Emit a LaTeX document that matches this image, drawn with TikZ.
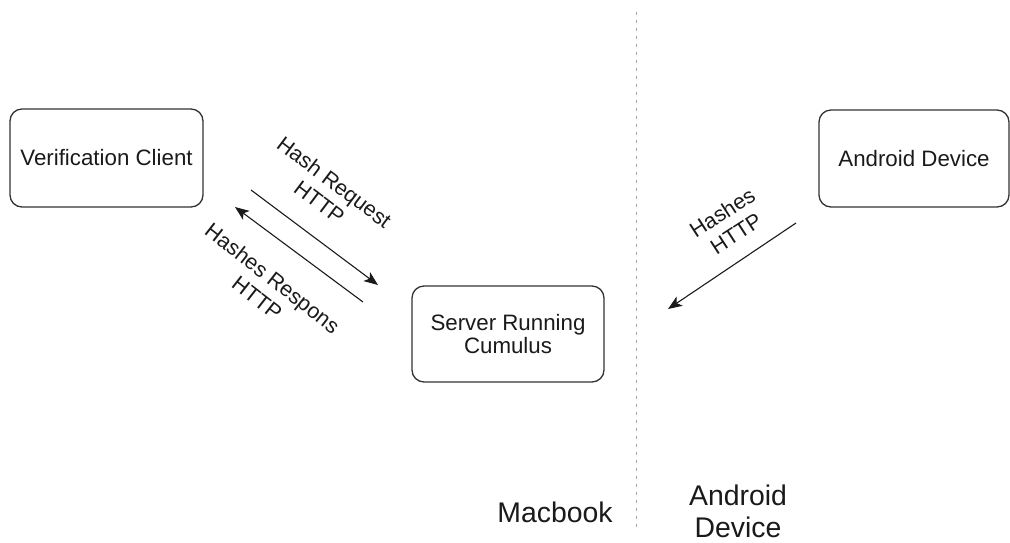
\documentclass[tikz,border=0pt]{standalone}
\usepackage{fontspec}
\setmainfont{Liberation Sans}
\usetikzlibrary{arrows.meta}
\definecolor{ink}{HTML}{1A1A1A}
\definecolor{edge}{HTML}{333333}
\tikzset{
  box/.style={draw=edge, line width=1.3pt, rounded corners=12pt, text=ink,
    align=center, font=\fontsize{22.3}{23}\selectfont, inner sep=0pt},
  lbl/.style={text=ink, align=center, font=\fontsize{21.5}{25}\selectfont, inner sep=0pt},
  big/.style={text=ink, align=center, font=\fontsize{28.4}{32}\selectfont, inner sep=0pt},
  conn/.style={draw=ink, line width=1.1pt, -{Stealth[length=14pt,width=11pt,inset=3.5pt]}},
  sep/.style={draw=gray!70, line width=1pt, dash pattern=on 2.5pt off 5.5pt}
}
\begin{document}
\begin{tikzpicture}[x=1pt,y=-1pt]
\useasboundingbox (0,0) rectangle (1010,542);
\node[box, minimum width=193pt, minimum height=98pt] (vc) at (106.5,158) {Verification Client};
\node[box, minimum width=192pt, minimum height=96pt] (srv) at (508,334) {Server Running\\Cumulus};
\node[box, minimum width=190pt, minimum height=97pt] (ad) at (914,158.5) {Android Device};
\coordinate (sepT) at (636,12);
\coordinate (sepB) at (636,528);
\draw[sep] (sepT) -- (sepB);
\coordinate (reqA) at (251,190);
\coordinate (reqB) at (378,285);
\coordinate (resA) at (363,302);
\coordinate (resB) at (235,207);
\coordinate (andA) at (796,223);
\coordinate (andB) at (668,309);
\draw[conn] (reqA) -- (reqB);
\draw[conn] (resA) -- (resB);
\draw[conn] (andA) -- (andB);
\node[lbl, rotate=-37] (lreq) at (327,192) {Hash Request\\HTTP};
\node[lbl, rotate=-38] (lres) at (265,288) {Hashes Respons\\HTTP};
\node[lbl, rotate=33] (land) at (729,223) {Hashes\\HTTP};
\node[big] (mac) at (555,512) {Macbook};
\node[big] (andl) at (738,511) {Android\\Device};
\end{tikzpicture}
\end{document}
